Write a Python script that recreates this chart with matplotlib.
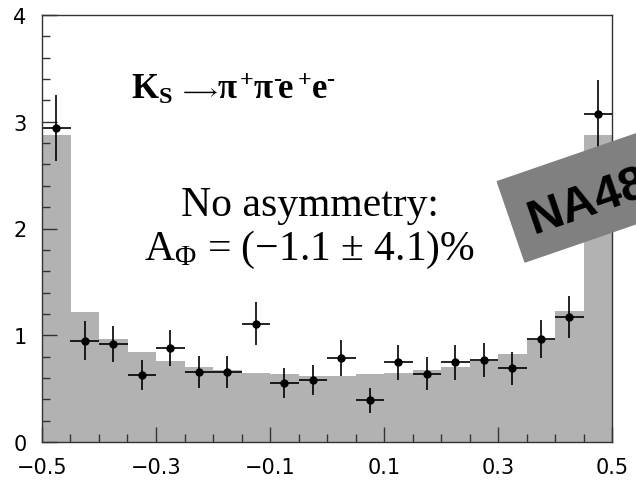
import numpy as np
import matplotlib
matplotlib.use('Agg')
import matplotlib.pyplot as plt
from matplotlib.patches import Rectangle
from matplotlib.ticker import MultipleLocator

plt.rcParams['mathtext.fontset'] = 'custom'
plt.rcParams['mathtext.rm'] = 'Liberation Serif'
plt.rcParams['mathtext.it'] = 'Liberation Serif:italic'
plt.rcParams['mathtext.bf'] = 'Liberation Serif:bold'

# phi distribution, 20 bins over [-0.5, 0.5]
edges = np.linspace(-0.5, 0.5, 21)
mc = [2.88, 1.22, 0.965, 0.84, 0.76, 0.70, 0.676, 0.65, 0.636, 0.62,
      0.62, 0.636, 0.65, 0.676, 0.70, 0.76, 0.826, 0.96, 1.23, 2.88]
data = [2.94, 0.95, 0.92, 0.63, 0.88, 0.66, 0.655, 1.11, 0.55, 0.58,
        0.79, 0.39, 0.745, 0.64, 0.745, 0.765, 0.69, 0.965, 1.17, 3.07]
data_err = [0.31, 0.18, 0.17, 0.14, 0.17, 0.15, 0.15, 0.20, 0.14, 0.14,
            0.17, 0.12, 0.16, 0.155, 0.16, 0.16, 0.155, 0.18, 0.20, 0.32]

x_ticks = [-0.5, -0.3, -0.1, 0.1, 0.3, 0.5]
x_labels = ['\u22120.5', '\u22120.3', '\u22120.1', '0.1', '0.3', '0.5']
y_ticks = [0, 1, 2, 3, 4]
y_labels = ['0', '1', '2', '3', '4']

centers = 0.5 * (edges[:-1] + edges[1:])
half_w = 0.5 * (edges[1] - edges[0])

fig = plt.figure(figsize=(6.36, 4.85), dpi=100)
ax = fig.add_axes([42 / 636, 42 / 485, 570 / 636, 427 / 485])

ax.stairs(mc, edges, fill=True, color='#b2b2b2', lw=0)
ax.errorbar(centers, data, yerr=data_err, xerr=half_w, fmt='o', color='black',
            ms=5, lw=1.2, capsize=0)

ax.set_xlim(-0.5, 0.5)
ax.set_ylim(0, 4)
ax.set_xticks(x_ticks, x_labels)
ax.set_yticks(y_ticks, y_labels)
ax.xaxis.set_minor_locator(MultipleLocator(0.05))
ax.yaxis.set_minor_locator(MultipleLocator(0.2))
ax.tick_params(which='both', direction='in', color='#333333', width=1,
               top=False, right=False, labelsize=15, pad=11)
ax.tick_params(which='major', length=11)
ax.tick_params(which='minor', length=6)
for lab in ax.get_xticklabels() + ax.get_yticklabels():
    lab.set_family('DejaVu Sans')
for sp in ax.spines.values():
    sp.set_color('#333333')
    sp.set_linewidth(1)

# decay label: K_S, arrow and final state set side by side
decay_xy = (-0.344, 3.22)
ax.annotate(r'$\mathbf{K}_\mathbf{S}$', decay_xy, fontsize=25,
            ha='left', va='baseline')
ax.annotate(r'$\longrightarrow$', decay_xy, xytext=(48, 2), textcoords='offset pixels',
            fontsize=16, ha='left', va='baseline')
ax.annotate('$\\mathbf{\\pi^+\\!\\pi^{\u2010}\\!e^+\\!e^{\u2010}}$', decay_xy,
            xytext=(86, 0), textcoords='offset pixels',
            fontsize=25, ha='left', va='baseline')

ax.text(0.470, 2.13, 'No asymmetry:', family='Liberation Serif',
        fontsize=30, ha='center', va='baseline', transform=ax.get_yaxis_transform())
ax.text(0.470, 1.71, r'A$_\Phi$ = ($-$1.1 $\pm$ 4.1)%', family='Liberation Serif',
        fontsize=30, ha='center', va='baseline', transform=ax.get_yaxis_transform())

# experiment tag, tilted and running off the right edge
tag = Rectangle((5.25, 2.22), 2.0, 0.85, angle=19, color='#808080',
                transform=fig.dpi_scale_trans, zorder=5)
fig.add_artist(tag)
fig.text(5.34, 2.51, 'NA48', fontsize=35, fontweight='bold', family='Liberation Sans',
         rotation=19, rotation_mode='anchor', ha='left', va='baseline',
         transform=fig.dpi_scale_trans, zorder=6)

fig.savefig('out.png', dpi=100)
